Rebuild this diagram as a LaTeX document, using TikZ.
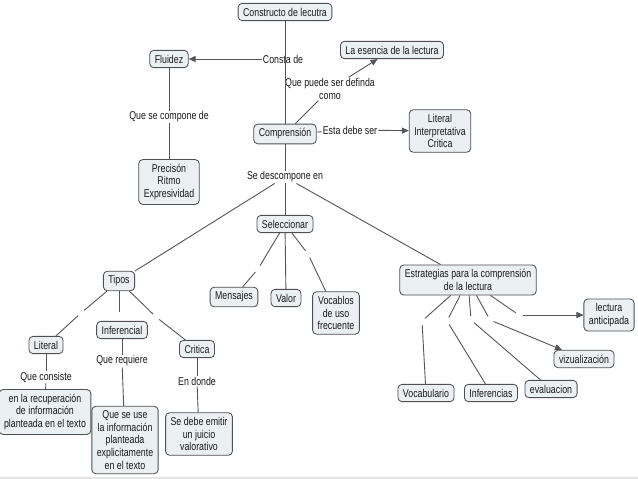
\documentclass[tikz,border=0pt]{standalone}
\usepackage{fontspec}
\setmainfont{Liberation Sans}[FakeStretch=0.78]
\usetikzlibrary{arrows.meta}
\definecolor{boxfill}{HTML}{EBF0F3}
\definecolor{boxdraw}{HTML}{505050}
\definecolor{linec}{HTML}{555555}
\definecolor{txt}{HTML}{1A1A1A}
\begin{document}
\begin{tikzpicture}[x=1pt,y=-1pt,
  concept/.style={draw=boxdraw, fill=boxfill, rounded corners=4pt, align=center,
    inner xsep=5pt, inner ysep=4.5pt, font=\fontsize{11.3}{12.6}\selectfont, text=txt, line width=0.85pt},
  phrase/.style={align=center, inner sep=1pt, font=\fontsize{11.3}{12.6}\selectfont, text=txt},
  conn/.style={draw=linec, line width=0.9pt},
  arr/.style={conn, -{Triangle[length=7pt,width=6pt]}},
  gapin/.style={shorten >=4pt},
  gapout/.style={shorten <=4pt}]
\fill[white] (0,0) rectangle (638,479);
\useasboundingbox (0,0) rectangle (638,479);
\fill[black!10] (0,476.5) rectangle (638,479);

% concepts
\node[concept] (constructo) at (285,12) {Constructo de lecutra};
\node[concept] (fluidez) at (169,59) {Fluidez};
\node[concept] (esencia) at (392,50) {La esencia de la lectura};
\node[concept] (compr) at (285,134) {Comprensión};
\node[concept] (literalc) at (440,131) {Literal\\Interpretativa\\Critica};
\node[concept] (precision) at (169,182) {Precisón\\Ritmo\\Expresividad};
\node[concept] (selec) at (285,224) {Seleccionar};
\node[concept] (tipos) at (119,281) {Tipos};
\node[concept] (mensajes) at (234,297) {Mensajes};
\node[concept] (valor) at (286,298) {Valor};
\node[concept] (vocablos) at (336,313) {Vocablos\\de uso\\frecuente};
\node[concept] (estrat) at (468,280) {Estrategias para la comprensión\\de la lectura};
\node[concept] (anticip) at (609,315) {lectura\\anticipada};
\node[concept] (vizual) at (584,359) {vizualización};
\node[concept] (vocab) at (426,393) {Vocabulario};
\node[concept] (inferencias) at (491,393) {Inferencias};
\node[concept] (evalua) at (551,389) {evaluacion};
\node[concept] (literal) at (46,345) {Literal};
\node[concept] (inferencial) at (122,330) {Inferencial};
\node[concept] (critica) at (197,349) {Critica};
\node[concept] (recup) at (45,412) {en la recuperación\\de información\\planteada en el texto};
\node[concept] (queseuse) at (125,440) {Que se use\\la información\\planteada\\explicitamente\\en el texto};
\node[concept] (emitir) at (199,434) {Se debe emitir\\un juicio\\valorativo};

% linking phrases
\node[phrase] (consta) at (283,59) {Consta de};
\node[phrase] (definida) at (330,89) {Que puede ser definda\\como};
\node[phrase] (compone) at (169,117) {Que se compone de};
\node[phrase] (debeser) at (350,130) {Esta debe ser};
\node[phrase] (descomp) at (285,177) {Se descompone en};
\node[phrase] (consiste) at (46,377) {Que consiste};
\node[phrase] (requiere) at (122,361) {Que requiere};
\node[phrase] (donde) at (197,381) {En donde};

% empty linking points
\coordinate (eMen) at (258,269);
\coordinate (eVocab) at (308,254);
\coordinate (eLit) at (81,313);
\coordinate (eInf) at (119,316);
\coordinate (eCri) at (156,317);
\coordinate (eVoc) at (422,321);
\coordinate (eInfe) at (447,321);
\coordinate (eEva) at (471,320);
\coordinate (eViz) at (490,320);
\coordinate (eAnt) at (519,315);

% connectors
\draw[conn] (constructo) -- (compr);
\draw[arr] (consta) -- (fluidez);
\draw[conn] (compr) -- (definida);
\draw[arr] (definida) -- (esencia);
\draw[conn] (compr) -- (debeser);
\draw[arr] (debeser) -- (literalc);
\draw[conn] (fluidez) -- (compone);
\draw[conn] (compone) -- (precision);
\draw[conn] (compr) -- (descomp);
\draw[conn] (descomp) -- (selec);
\draw[conn] (descomp) -- (tipos);
\draw[conn] (descomp) -- (estrat);

\draw[conn,gapin] (selec) -- (eMen);
\draw[conn,gapout] (eMen) -- (mensajes);
\draw[conn] (selec) -- (valor);
\draw[conn,gapin] (selec) -- (eVocab);
\draw[conn,gapout] (eVocab) -- (vocablos);

\draw[conn,gapin] (tipos) -- (eLit);
\draw[conn,gapout] (eLit) -- (literal);
\draw[conn,gapin] (tipos) -- (eInf);
\draw[conn,gapin] (tipos) -- (eCri);
\draw[conn,gapout] (eCri) -- (critica);

\draw[conn] (literal) -- (consiste);
\draw[conn] (consiste) -- (recup);
\draw[conn] (inferencial) -- (requiere);
\draw[conn] (requiere) -- (queseuse);
\draw[conn] (critica) -- (donde);
\draw[conn] (donde) -- (emitir);

\draw[conn,gapin] (estrat) -- (eVoc);
\draw[conn,gapout] (eVoc) -- (vocab);
\draw[conn,gapin] (estrat) -- (eInfe);
\draw[conn,gapout] (eInfe) -- (inferencias);
\draw[conn,gapin] (estrat) -- (eEva);
\draw[conn,gapout] (eEva) -- (evalua);
\draw[conn,gapin] (estrat) -- (eViz);
\draw[arr,gapout] (eViz) -- (vizual);
\draw[conn,gapin] (estrat) -- (eAnt);
\draw[arr,gapout] (eAnt) -- (anticip);
\end{tikzpicture}
\end{document}
